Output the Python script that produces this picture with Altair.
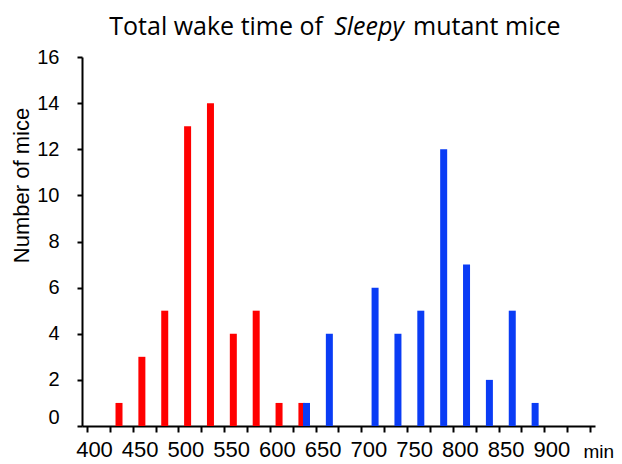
import altair as alt
import pandas as pd

# --- data ---
red_minutes = [435, 460, 485, 510, 535, 560, 585, 610, 635]
red_mice = [1, 3, 5, 13, 14, 4, 5, 1, 1]
blue_minutes = [640, 665, 715, 740, 765, 790, 815, 840, 865, 890]
blue_mice = [1, 4, 6, 4, 5, 12, 7, 2, 5, 1]
x_tick_values = list(range(400, 951, 25))
y_tick_values = list(range(0, 17, 2))
title_parts = ["Total wake time of", "Sleepy", "mutant mice"]
y_title = "Number of mice"
x_unit = "min"

RED = "#ff0000"
BLUE = "#0a3cf5"

df = pd.DataFrame({
    "minutes": red_minutes + blue_minutes,
    "mice": red_mice + blue_mice,
    "group": ["wild"] * len(red_minutes) + ["mutant"] * len(blue_minutes),
})

x_enc = alt.X(
    "minutes:Q",
    scale=alt.Scale(domain=[400, 950], nice=False, zero=False),
    axis=alt.Axis(
        values=x_tick_values,
        labelExpr="(datum.value % 50 == 0 && datum.value < 950) ? datum.label : ''",
        format="d",
        grid=False,
        domainColor="black", domainWidth=2,
        tickColor="black", tickWidth=2, tickSize=6,
        labelFont="Liberation Sans", labelFontSize=22, labelColor="black",
        labelPadding=7, labelOffset=7, labelFlush=False, labelOverlap=False,
        title=x_unit, titleFont="Liberation Sans", titleFontSize=19,
        titleFontWeight="normal", titleColor="black",
        titleAlign="left", titleBaseline="alphabetic",
        titleX=501, titleY=31,
    ),
)

y_enc = alt.Y(
    "mice:Q",
    scale=alt.Scale(domain=[0, 16], nice=False),
    axis=alt.Axis(
        values=y_tick_values,
        format="d",
        grid=False,
        domainColor="black", domainWidth=2,
        tickColor="black", tickWidth=2, tickSize=5,
        labelFont="Liberation Sans", labelFontSize=20, labelColor="black",
        labelPadding=18,
        labelOffset={"condition": {"test": "datum.value === 0", "value": -9}, "value": 0},
        title=y_title, titleFont="Liberation Sans", titleFontSize=22,
        titleFontWeight="normal", titleColor="black",
        titleAngle=270, titleAlign="center", titleBaseline="middle",
        titleX=-61, titleY=128,
    ),
)

base = alt.Chart(df)
red_bars = base.transform_filter(alt.datum.group == "wild").mark_bar(
    color=RED, size=7).encode(x=x_enc, y=y_enc)
blue_bars = base.transform_filter(alt.datum.group == "mutant").mark_bar(
    color=BLUE, size=7).encode(x=x_enc, y=y_enc)

def title_piece(text, x, align, italic=False):
    return alt.Chart(pd.DataFrame({"t": [text]})).mark_text(
        font="Open Sans", fontSize=25, color="black", align=align,
        baseline="alphabetic", fontStyle="italic" if italic else "normal",
    ).encode(text="t:N", x=alt.value(x), y=alt.value(-22))

t1 = title_piece(title_parts[0], 241, "right")
t2 = title_piece(title_parts[1], 287, "center", italic=True)
t3 = title_piece(title_parts[2], 331, "left")

chart = alt.layer(red_bars, blue_bars, t1, t2, t3).properties(
    width=513, height=369,
    background="white",
    autosize=alt.AutoSizeParams(type="none"),
    padding={"left": 74, "top": 49, "right": 19, "bottom": 38},
).configure_view(strokeWidth=0)

chart.save("out.html", embed_options={"renderer": "svg", "actions": False})
